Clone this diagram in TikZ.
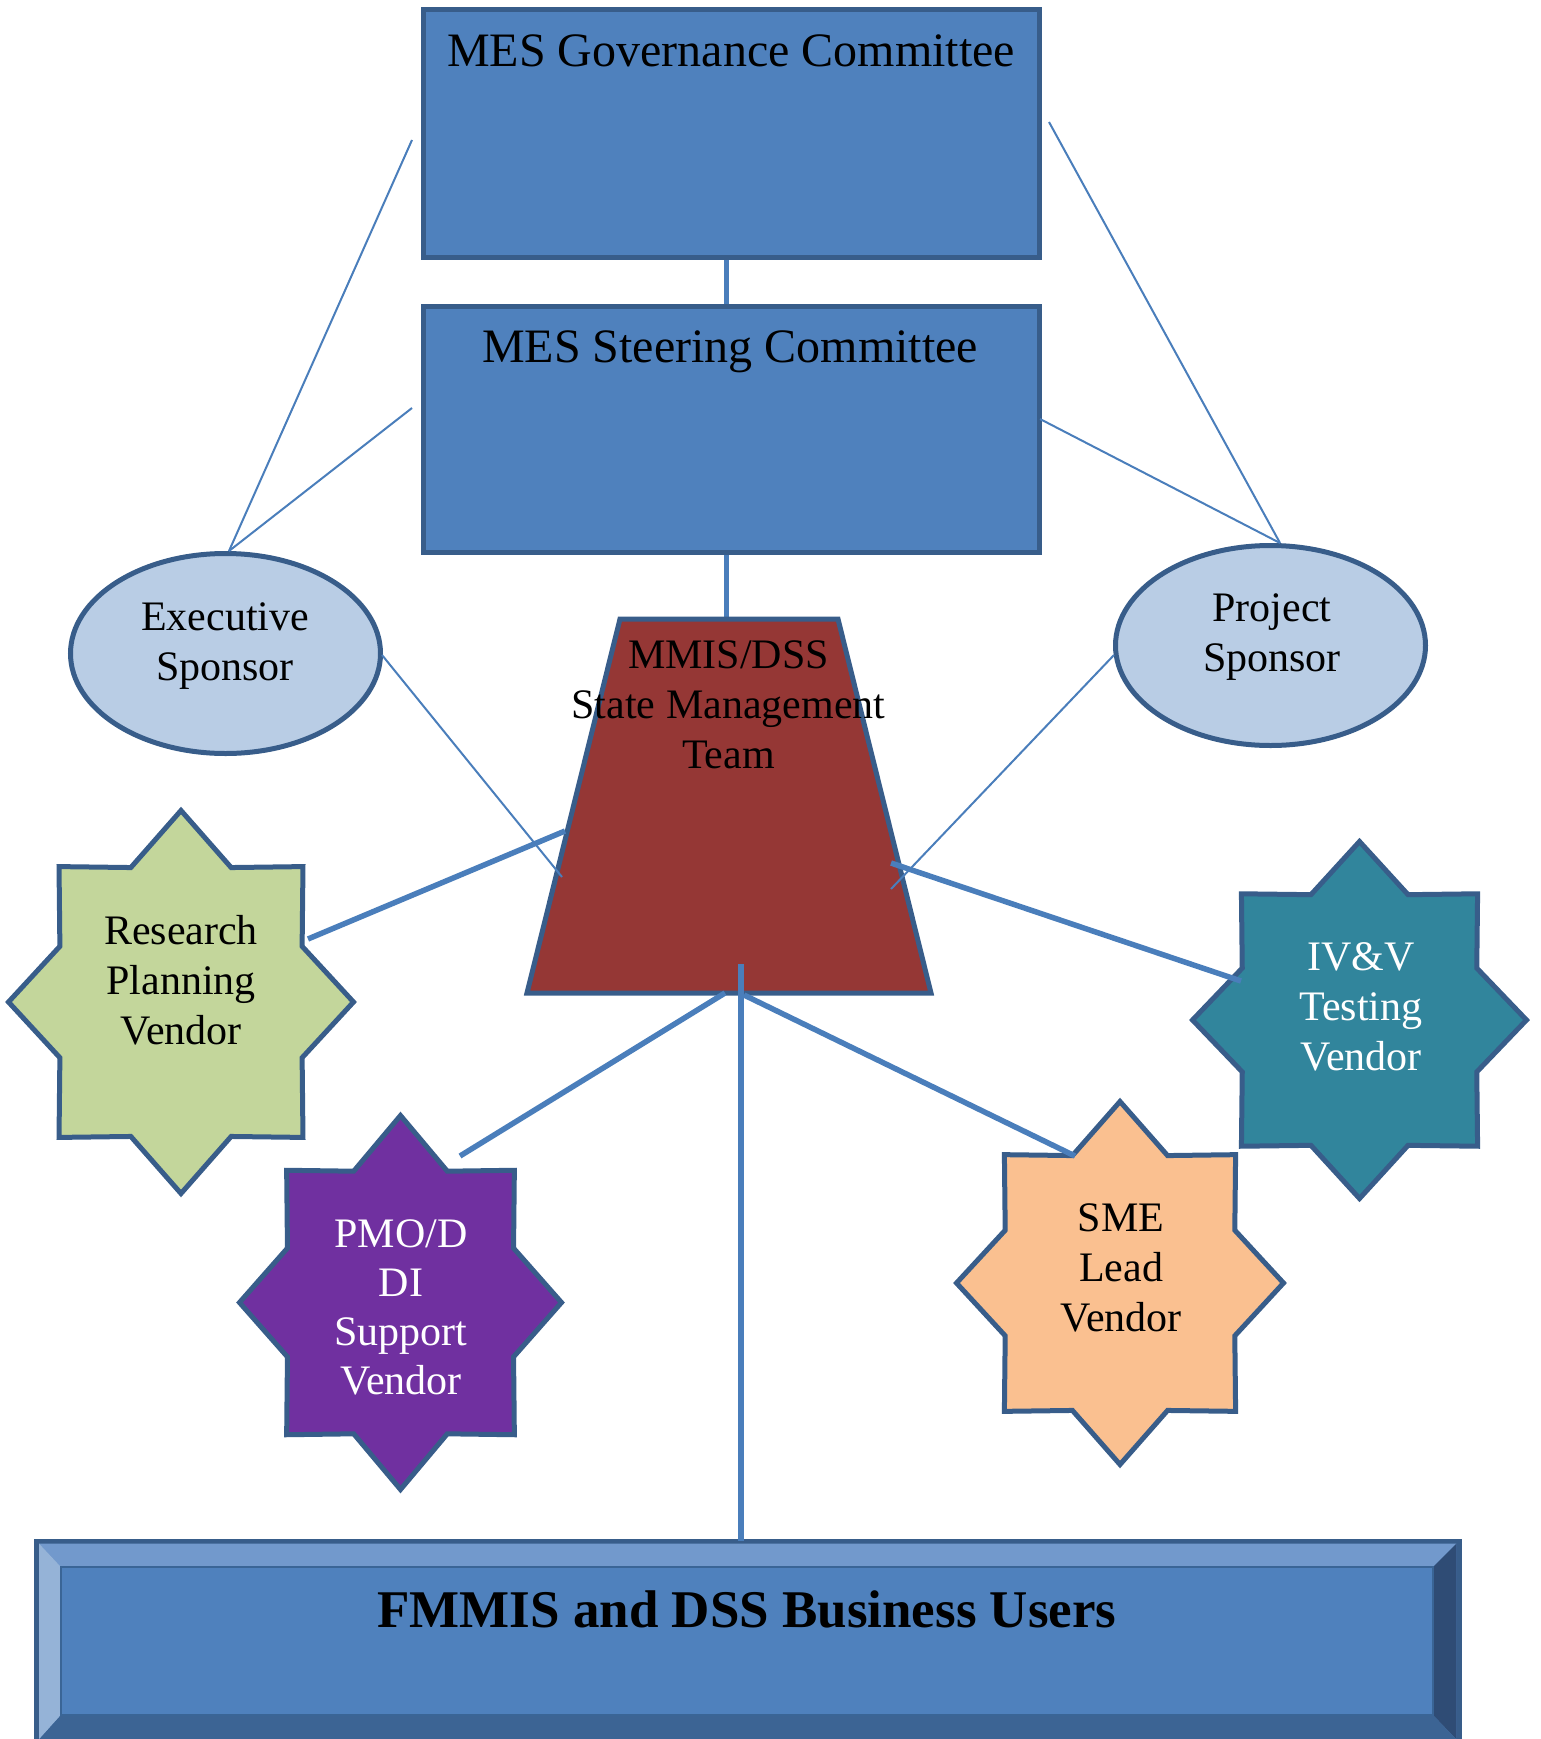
\documentclass[tikz,border=0pt]{standalone}
\usepackage{fontspec}
\setmainfont{Liberation Serif}
\usetikzlibrary{shapes.geometric}
\definecolor{boxblue}{HTML}{4F81BD}
\definecolor{borderblue}{HTML}{385D8A}
\definecolor{lineblue}{HTML}{4A7EBB}
\definecolor{ellfill}{HTML}{B9CDE5}
\definecolor{trapred}{HTML}{953735}
\definecolor{stargreen}{HTML}{C3D69B}
\definecolor{starpurple}{HTML}{7030A0}
\definecolor{starteal}{HTML}{31859C}
\definecolor{starpeach}{HTML}{FAC090}
\definecolor{bevtop}{HTML}{7299CC}
\definecolor{bevleft}{HTML}{95B3D7}
\definecolor{bevright}{HTML}{2F4C75}
\definecolor{bevbot}{HTML}{3C6494}
\definecolor{bevedge}{HTML}{3A6596}
% \octstar{cx}{cy}{rx}{ry}{fill}
\newcommand{\octstar}[5]{%
  \draw[shapeline, fill=#5] ({#1+#3},{#2})
    \foreach \a in {0,45,...,270} {
      -- ({#1+0.76*#3*cos(\a+22.5)},{#2-0.76*#4*sin(\a+22.5)})
      -- ({#1+#3*cos(\a+45)},{#2-#4*sin(\a+45)}) }
    -- ({#1+0.76*#3*cos(337.5)},{#2-0.76*#4*sin(337.5)}) -- cycle;}
\begin{document}
\begin{tikzpicture}[x=1pt,y=-1pt,
  shapeline/.style={draw=borderblue, line width=5pt},
  box/.style={shapeline, fill=boxblue, rectangle, minimum width=616pt, minimum height=247pt, inner sep=0pt, outer sep=0pt},
  sponsor/.style={shapeline, fill=ellfill, ellipse, minimum width=310pt, minimum height=200pt, inner sep=0pt, outer sep=0pt},
  conthin/.style={draw=lineblue, line width=2pt},
  conthick/.style={draw=lineblue, line width=5.5pt},
  lbl/.style={font=\fontsize{42}{50}\selectfont, align=center, inner sep=0pt, anchor=north},
  titletext/.style={font=\fontsize{48}{55}\selectfont, inner sep=0pt, anchor=base}]
\useasboundingbox (0,0) rectangle (1541,1739);

% short vertical connectors (under the boxes)
\coordinate (gsA) at (726,258);
\coordinate (gsB) at (726,306);
\coordinate (stA) at (726,552);
\coordinate (stB) at (726,619);
\draw[draw=lineblue, line width=5pt] (gsA) -- (gsB);
\draw[draw=lineblue, line width=5pt] (stA) -- (stB);

% committees
\node[box] (gov) at (731,133.5) {};
\node[box, minimum height=246pt] (steer) at (731,429) {};
\node[titletext] (govt) at (731,67) {MES Governance Committee};
\node[titletext] (steert) at (730,362) {MES Steering Committee};

% sponsors
\node[sponsor] (exec) at (225.5,653.5) {};
\node[sponsor] (proj) at (1270.5,645.5) {};
\node[lbl] (exect) at (225,595) {\strut Executive\\Sponsor};
\node[lbl] (projt) at (1272,586) {\strut Project\\Sponsor};

% state management team
\draw[shapeline, fill=trapred] (620,619) -- (838,619) -- (931,993) -- (527,993) -- cycle;
\coordinate (mmis) at (729,806);
\node[lbl] (mmist) at (728.5,633) {\strut MMIS/DSS\\State Management\\Team};

% vendor stars
\coordinate (rpv) at (181,1002);
\coordinate (pmo) at (400.5,1302.5);
\coordinate (ivv) at (1359.5,1020);
\coordinate (sme) at (1120,1283);
\octstar{181}{1002}{172.5}{191.5}{stargreen}
\octstar{400.5}{1302.5}{161}{187}{starpurple}
\octstar{1359.5}{1020}{167}{178.5}{starteal}
\octstar{1120}{1283}{163.5}{181.5}{starpeach}
\node[lbl] (rpvt) at (181,909) {\strut Research\\Planning\\Vendor};
\node[lbl, font=\fontsize{42}{49}\selectfont, text=white] (pmot) at (401,1212.7) {\strut PMO/D\\DI\\Support\\Vendor};
\node[lbl, text=white] (ivvt) at (1361,935) {\strut IV\&V\\Testing\\Vendor};
\node[lbl] (smet) at (1121,1196) {\strut SME\\Lead\\Vendor};

% business users (bevelled box)
\node[rectangle, draw=borderblue, line width=5pt, fill=boxblue, minimum width=1422.5pt, minimum height=201pt, inner sep=0pt, outer sep=0pt] (users) at (747.75,1641.5) {};
\fill[bevtop] (39,1543.5) -- (1456.5,1543.5) -- (1433,1567) -- (61,1567) -- cycle;
\fill[bevleft] (39,1543.5) -- (61,1567) -- (61,1715) -- (39,1739.5) -- cycle;
\fill[bevright] (1456.5,1543.5) -- (1433,1567) -- (1433,1715) -- (1456.5,1739.5) -- cycle;
\fill[bevbot] (39,1739.5) -- (61,1715) -- (1433,1715) -- (1456.5,1739.5) -- cycle;
\draw[draw=bevedge, line width=2.5pt] (61,1567) rectangle (1433,1715);
\node[font=\bfseries\fontsize{53}{60}\selectfont, anchor=base, inner sep=0pt] (userst) at (747,1627) {FMMIS and DSS Business Users};

% connector end points
\coordinate (gvL) at (412,140);
\coordinate (gvR) at (1049,122);
\coordinate (stL) at (412,408);
\coordinate (stR) at (1040,419);
\coordinate (exT) at (229,551);
\coordinate (prT) at (1280,543);
\coordinate (exR) at (382,655);
\coordinate (prL) at (1114,655);
\coordinate (mL) at (562,877);
\coordinate (mR) at (891,889);
\coordinate (rpR) at (308,939);
\coordinate (tL) at (565,831);
\coordinate (ivL) at (1241,981);
\coordinate (tR) at (891,863);
\coordinate (pmT) at (460,1156);
\coordinate (tB1) at (725,993);
\coordinate (smT) at (1075,1156);
\coordinate (tB2) at (744,995);
\coordinate (vT) at (741,964);
\coordinate (usT) at (741,1541);

% thin connectors
\draw[conthin] (exT) -- (gvL);
\draw[conthin] (exT) -- (stL);
\draw[conthin] (prT) -- (gvR);
\draw[conthin] (prT) -- (stR);
\draw[conthin] (exR) -- (mL);
\draw[conthin] (prL) -- (mR);

% thick connectors
\draw[conthick] (rpR) -- (tL);
\draw[conthick] (ivL) -- (tR);
\draw[conthick] (pmT) -- (tB1);
\draw[conthick] (smT) -- (tB2);
\draw[conthick] (vT) -- (usT);
\end{tikzpicture}
\end{document}
